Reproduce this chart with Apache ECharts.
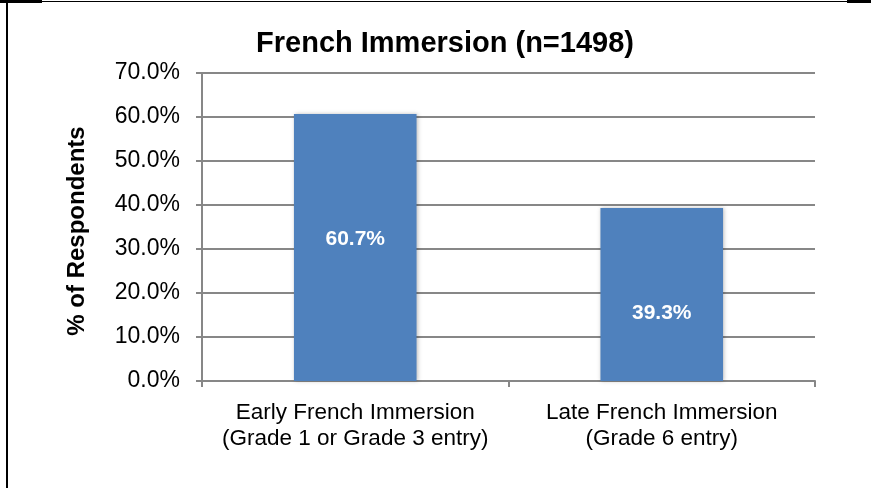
<!DOCTYPE html>
<html>
<head>
<meta charset="utf-8">
<script src="https://cdn.jsdelivr.net/npm/echarts@6/dist/echarts.min.js"></script>
<style>
html, body { margin: 0; padding: 0; background: #fff; }
#main { width: 871px; height: 488px; }
</style>
</head>
<body>
<div id="main"></div>
<script>
// data
var categories = ['Early French Immersion\n(Grade 1 or Grade 3 entry)', 'Late French Immersion\n(Grade 6 entry)'];
var shares = [60.7, 39.3];
var yTicks = [0, 10, 20, 30, 40, 50, 60, 70];

var chart = echarts.init(document.getElementById('main'));
var font = 'Liberation Sans, Arial, sans-serif';

var option = {
	animation: false,
	backgroundColor: '#ffffff',
	title: {
		text: 'French Immersion (n=1498)',
		left: 440,
		textAlign: 'center',
		top: 24,
		textStyle: { fontFamily: font, fontSize: 29, fontWeight: 'bold', color: '#000' }
	},
	graphic: [
		{ type: 'rect', shape: { x: 6, y: 0, width: 2, height: 488 }, style: { fill: '#000' } },
		{ type: 'rect', shape: { x: 0, y: 1, width: 871, height: 1 }, style: { fill: '#000' } },
		{ type: 'rect', shape: { x: 0, y: 0, width: 42, height: 3 }, style: { fill: '#000' } },
		{ type: 'rect', shape: { x: 847, y: 0, width: 24, height: 3 }, style: { fill: '#000' } }
	],
	grid: { left: 202, right: 56, top: 73, bottom: 107, containLabel: false },
	xAxis: {
		type: 'category',
		data: categories,
		axisLine: { lineStyle: { color: '#878787', width: 2 } },
		axisTick: { show: true, length: 6, alignWithLabel: false, lineStyle: { color: '#878787', width: 2 } },
		axisLabel: { interval: 0, hideOverlap: false, fontFamily: font, fontSize: 22.5, color: '#000', lineHeight: 26, margin: 19 }
	},
	yAxis: {
		type: 'value',
		min: 0,
		max: 70,
		interval: 10,
		name: '% of Respondents',
		nameLocation: 'middle',
		nameGap: 113,
		nameTextStyle: { fontFamily: font, fontSize: 24, fontWeight: 'bold', color: '#000', padding: [0, 8, 0, 0] },
		axisLine: { show: true, lineStyle: { color: '#878787', width: 2 } },
		axisTick: { show: true, length: 6, lineStyle: { color: '#878787', width: 2 } },
		splitLine: { show: true, lineStyle: { color: '#878787', width: 2 } },
		axisLabel: {
			fontFamily: font, fontSize: 23, color: '#000', margin: 22,
			formatter: function (v) { return yTicks.indexOf(v) >= 0 ? v.toFixed(1) + '%' : ''; }
		}
	},
	series: [{
		type: 'bar',
		data: shares.map(function (v, i) {
			return { value: v, label: { offset: [0, i === 0 ? -8 : 19] } };
		}),
		barWidth: '40%',
		itemStyle: {
			color: '#4f81bd',
			shadowColor: 'rgba(0,0,0,0.25)',
			shadowBlur: 4,
			shadowOffsetX: 1,
			shadowOffsetY: 0
		},
		label: {
			show: true,
			position: 'inside',
			fontFamily: font,
			fontSize: 21,
			fontWeight: 'bold',
			color: '#fff',
			formatter: function (p) { return p.value.toFixed(1) + '%'; }
		}
	}]
};

chart.setOption(option);
</script>
</body>
</html>
